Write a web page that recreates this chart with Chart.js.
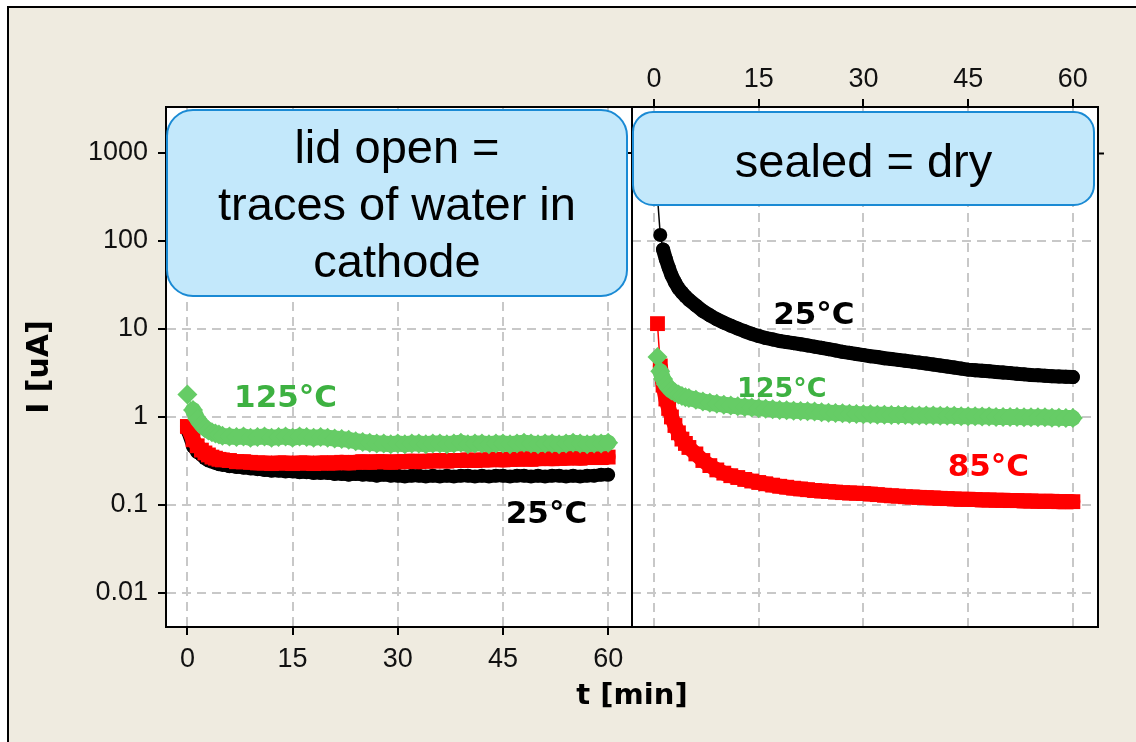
<!DOCTYPE html>
<html>
<head>
<meta charset="utf-8">
<script src="https://cdn.jsdelivr.net/npm/chart.js@4.4.1/dist/chart.umd.min.js"></script>
<style>
  html, body { margin: 0; padding: 0; background: #fff; }
  canvas { display: block; }
</style>
</head>
<body>
<canvas id="chart" width="1136" height="742"></canvas>
<script>
// Leakage current I [uA] versus time t [min], lid open vs. sealed

// --- lid open (left panel) ---
const timesOpen = [0, 0.8, 1.4, 2, 2.5, 3, 3.5, 4, 4.5,
  5, 6, 7, 8, 9, 10, 11, 12, 13, 14, 15, 16, 17, 18, 19, 20, 21, 22, 23, 24,
  25, 26, 27, 28, 29, 30, 31, 32, 33, 34, 35, 36, 37, 38, 39, 40, 41, 42, 43, 44,
  45, 46, 47, 48, 49, 50, 51, 52, 53, 54, 55, 56, 57, 58, 59, 60];
const open125 = [1.8, 1.2, 0.95, 0.82, 0.75, 0.7, 0.67, 0.65, 0.63,
  0.61, 0.6, 0.59, 0.6, 0.58, 0.59, 0.6, 0.58, 0.59, 0.6,
  0.58, 0.6, 0.59, 0.58, 0.59, 0.58, 0.57, 0.56, 0.55, 0.53,
  0.52, 0.51, 0.5, 0.5, 0.49, 0.5, 0.49, 0.5, 0.5, 0.49,
  0.5, 0.5, 0.49, 0.5, 0.51, 0.49, 0.5, 0.5, 0.49, 0.5,
  0.5, 0.49, 0.5, 0.51, 0.5, 0.49, 0.5, 0.5, 0.49, 0.5,
  0.51, 0.5, 0.49, 0.5, 0.5, 0.51];
const open85 = [0.78, 0.55, 0.47, 0.42, 0.39, 0.37, 0.35, 0.34, 0.33,
  0.325, 0.32, 0.31, 0.31, 0.305, 0.3, 0.3, 0.295, 0.3, 0.3,
  0.295, 0.3, 0.3, 0.295, 0.3, 0.3, 0.3, 0.305, 0.3, 0.305,
  0.31, 0.305, 0.31, 0.31, 0.305, 0.31, 0.31, 0.315, 0.31, 0.315,
  0.315, 0.32, 0.315, 0.32, 0.32, 0.325, 0.32, 0.325, 0.325, 0.33,
  0.325, 0.33, 0.33, 0.335, 0.33, 0.335, 0.34, 0.335, 0.34, 0.34,
  0.345, 0.34, 0.345, 0.35, 0.345, 0.35];
const open25 = [0.7, 0.46, 0.4, 0.37, 0.34, 0.32, 0.31, 0.3, 0.29,
  0.285, 0.275, 0.27, 0.265, 0.26, 0.255, 0.25, 0.245, 0.245, 0.24,
  0.24, 0.235, 0.235, 0.23, 0.23, 0.23, 0.225, 0.225, 0.22, 0.225,
  0.22, 0.22, 0.215, 0.22, 0.215, 0.215, 0.21, 0.215, 0.215, 0.21,
  0.215, 0.21, 0.215, 0.21, 0.215, 0.215, 0.21, 0.215, 0.21, 0.215,
  0.215, 0.21, 0.215, 0.215, 0.21, 0.215, 0.21, 0.215, 0.215, 0.21,
  0.215, 0.21, 0.215, 0.215, 0.22, 0.22];

// --- sealed (right panel) ---
const timesSealed = [0.5, 0.9, 1.3, 1.7, 2.1, 2.5, 3, 3.5, 4, 4.5,
  5, 6, 7, 8, 9, 10, 11, 12, 13, 14, 15, 16, 17, 18, 19, 20, 21, 22, 23, 24,
  25, 26, 27, 28, 29, 30, 31, 32, 33, 34, 35, 36, 37, 38, 39, 40, 41, 42, 43, 44,
  45, 46, 47, 48, 49, 50, 51, 52, 53, 54, 55, 56, 57, 58, 59, 60];
const sealed25 = [320, 117, 80, 62, 50, 41, 34, 29, 26, 23.5,
  21.5, 18.5, 16, 14.3, 12.9, 11.8, 10.9, 10.1, 9.4, 8.8,
  8.3, 7.9, 7.6, 7.3, 7.1, 6.9, 6.7, 6.5, 6.3, 6.1,
  5.9, 5.7, 5.5, 5.35, 5.2, 5.05, 4.9, 4.8, 4.65, 4.55,
  4.45, 4.35, 4.25, 4.15, 4.05, 3.95, 3.85, 3.75, 3.65, 3.55,
  3.45, 3.4, 3.35, 3.3, 3.25, 3.2, 3.15, 3.1, 3.05, 3.0,
  2.97, 2.94, 2.91, 2.88, 2.86, 2.84];
const sealed85 = [11.5, 3.8, 2.3, 1.6, 1.25, 1.0, 0.8, 0.66, 0.56, 0.5,
  0.45, 0.38, 0.32, 0.28, 0.25, 0.23, 0.215, 0.205, 0.195, 0.187,
  0.18, 0.174, 0.168, 0.163, 0.159, 0.155, 0.152, 0.149, 0.146, 0.144,
  0.142, 0.14, 0.138, 0.137, 0.136, 0.135, 0.133, 0.131, 0.129, 0.127,
  0.126, 0.124, 0.123, 0.122, 0.121, 0.12, 0.119, 0.118, 0.117, 0.116,
  0.116, 0.115, 0.114, 0.114, 0.113, 0.113, 0.112, 0.112, 0.111, 0.111,
  0.11, 0.11, 0.11, 0.109, 0.109, 0.109];
const sealed125 = [4.8, 3.3, 2.7, 2.35, 2.15, 2.0, 1.9, 1.8, 1.73, 1.68,
  1.64, 1.57, 1.5, 1.45, 1.41, 1.38, 1.35, 1.32, 1.3, 1.28,
  1.26, 1.24, 1.22, 1.2, 1.19, 1.18, 1.17, 1.16, 1.15, 1.13,
  1.12, 1.11, 1.1, 1.09, 1.08, 1.07, 1.07, 1.06, 1.06, 1.05,
  1.05, 1.05, 1.04, 1.04, 1.04, 1.04, 1.03, 1.03, 1.03, 1.02,
  1.02, 1.02, 1.01, 1.01, 1.0, 1.0, 1.0, 1.0, 0.99, 0.99,
  0.99, 0.99, 0.98, 0.98, 0.97, 0.97];

// --- axis ticks ---
const xTickValues = [0, 15, 30, 45, 60];
const xTickLabels = ['0', '15', '30', '45', '60'];
const yTickValues = [0.01, 0.1, 1, 10, 100, 1000];
const yTickLabels = ['0.01', '0.1', '1', '10', '100', '1000'];

// --- annotation texts ---
const openBoxLines = ['lid open =', 'traces of water in', 'cathode'];
const sealedBoxLines = ['sealed = dry'];
const tempLabels = [
  { text: '125°C', scale: 'x',  t: 14,   v: 1.6,   color: '#3db141', size: 31 },
  { text: '25°C',  scale: 'x',  t: 51.2, v: 0.076, color: '#000000', size: 31 },
  { text: '25°C',  scale: 'x2', t: 22.9, v: 14,    color: '#000000', size: 31 },
  { text: '125°C', scale: 'x2', t: 18.3, v: 2.02,  color: '#3db141', size: 27 },
  { text: '85°C',  scale: 'x2', t: 47.9, v: 0.26,  color: '#ff0000', size: 31 }
];

const GREEN = '#66cc66', RED = '#ff0000', BLACK = '#000000';
const tickFamily = "'Liberation Sans', Arial, sans-serif";
const boldFamily = "'DejaVu Sans', Verdana, sans-serif";

const pts = (ts, vs) => ts.map((t, i) => ({ x: t, y: vs[i] }));

// Markers are sampled densely, so the trace reads as a solid band;
// the first few (sparse) readings keep a thin connector.
function series(label, ts, vs, xId, color, style, radius, band, thin, order) {
  return {
    label, data: pts(ts, vs), xAxisID: xId, yAxisID: 'y',
    showLine: true, borderColor: color, borderWidth: band,
    borderJoinStyle: 'round', borderCapStyle: 'round',
    segment: { borderWidth: c => (c.p0DataIndex < thin ? 1.5 : band) },
    pointStyle: style, pointRadius: radius,
    pointBackgroundColor: color, pointBorderColor: color, pointBorderWidth: 0,
    order
  };
}

function roundedBox(ctx, x, y, w, h, r) {
  ctx.beginPath();
  ctx.moveTo(x + r, y);
  ctx.arcTo(x + w, y, x + w, y + h, r);
  ctx.arcTo(x + w, y + h, x, y + h, r);
  ctx.arcTo(x, y + h, x, y, r);
  ctx.arcTo(x, y, x + w, y, r);
  ctx.closePath();
}

const decor = {
  id: 'decor',
  beforeDraw(chart) {
    const { ctx, width, height, chartArea: a } = chart;
    ctx.save();
    ctx.fillStyle = '#ffffff';
    ctx.fillRect(0, 0, width, height);
    ctx.fillStyle = '#efebe0';
    ctx.fillRect(8, 7, width - 8, height - 7);
    ctx.strokeStyle = '#000';
    ctx.lineWidth = 2;
    ctx.beginPath();
    ctx.moveTo(8, height); ctx.lineTo(8, 7); ctx.lineTo(width, 7);
    ctx.stroke();
    ctx.fillStyle = '#ffffff';
    ctx.fillRect(a.left, a.top, a.right - a.left, a.bottom - a.top);
    ctx.restore();
  },
  afterDatasetsDraw(chart) {
    const { ctx, chartArea: a, scales } = chart;
    ctx.save();
    // divider between the two panels
    const mid = Math.round((a.left + a.right) / 2);
    ctx.strokeStyle = '#000';
    ctx.lineWidth = 2;
    ctx.beginPath();
    ctx.moveTo(mid, a.top); ctx.lineTo(mid, a.bottom);
    const yk = scales.y.getPixelForValue(1000);
    ctx.moveTo(mid - 6, yk); ctx.lineTo(mid, yk);
    ctx.stroke();

    // temperature labels
    ctx.textAlign = 'center';
    ctx.textBaseline = 'middle';
    tempLabels.forEach(l => {
      ctx.font = `bold ${l.size}px ${boldFamily}`;
      ctx.fillStyle = l.color;
      ctx.fillText(l.text, scales[l.scale].getPixelForValue(l.t), scales.y.getPixelForValue(l.v));
    });

    // call-out boxes
    const boxes = [
      { x: 167, y: 110, w: 460, h: 186, r: 26, lines: openBoxLines, base: 163, step: 57 },
      { x: 633, y: 112, w: 461, h: 93, r: 20, lines: sealedBoxLines, base: 177, step: 57 }
    ];
    boxes.forEach(b => {
      roundedBox(ctx, b.x, b.y, b.w, b.h, b.r);
      ctx.fillStyle = '#c3e8fb';
      ctx.fill();
      ctx.strokeStyle = '#1a8ad4';
      ctx.lineWidth = 2;
      ctx.stroke();
      ctx.fillStyle = '#000';
      ctx.font = `47px ${tickFamily}`;
      ctx.textAlign = 'center';
      ctx.textBaseline = 'alphabetic';
      b.lines.forEach((s, i) => ctx.fillText(s, b.x + b.w / 2, b.base + i * b.step));
    });
    ctx.restore();
  }
};

const tickFont = { family: tickFamily, size: 27 };
const gridStyle = { color: '#c8c8c8', lineWidth: 2, tickColor: '#000', tickWidth: 2, tickLength: 8 };
const borderStyle = { display: true, color: '#000', width: 2, dash: [9, 6] };

new Chart(document.getElementById('chart'), {
  type: 'scatter',
  data: {
    datasets: [
      series('125°C lid open', timesOpen, open125, 'x', GREEN, 'rectRot', 10, 16, 1, 0),
      series('85°C lid open', timesOpen, open85, 'x', RED, 'rect', 10.5, 15, 0, 1),
      series('25°C lid open', timesOpen, open25, 'x', BLACK, 'circle', 7, 13, 0, 2),
      series('125°C sealed', timesSealed, sealed125, 'x2', GREEN, 'rectRot', 10, 16, 1, 0),
      series('85°C sealed', timesSealed, sealed85, 'x2', RED, 'rect', 10.5, 15, 1, 1),
      series('25°C sealed', timesSealed, sealed25, 'x2', BLACK, 'circle', 7, 14, 2, 2)
    ]
  },
  options: {
    responsive: false,
    animation: false,
    devicePixelRatio: 1,
    layout: { padding: 0 },
    plugins: { legend: { display: false }, tooltip: { enabled: false } },
    scales: {
      x: {
        type: 'linear', position: 'bottom', min: -3.05, max: 129.85,
        afterBuildTicks: s => { s.ticks = xTickValues.map(v => ({ value: v })); },
        afterFit: s => { s.height = 115; },
        ticks: { callback: (v, i) => xTickLabels[i], font: tickFont, color: '#111', padding: 8, autoSkip: false, maxRotation: 0 },
        grid: gridStyle,
        border: borderStyle,
        title: { display: true, text: 't [min]', color: '#000', font: { family: boldFamily, size: 29, weight: 'bold' }, padding: { top: 0, bottom: 28 } }
      },
      x2: {
        type: 'linear', position: 'top', min: -69.9, max: 63.6,
        afterBuildTicks: s => { s.ticks = xTickValues.map(v => ({ value: v })); },
        afterFit: s => { s.height = 107; },
        ticks: { callback: (v, i) => xTickLabels[i], font: tickFont, color: '#111', padding: 3, autoSkip: false, maxRotation: 0 },
        grid: gridStyle,
        border: borderStyle
      },
      y: {
        type: 'logarithmic', position: 'left', min: 0.0041, max: 3333,
        afterBuildTicks: s => { s.ticks = yTickValues.map(v => ({ value: v })); },
        afterFit: s => { s.width = 166; },
        ticks: { callback: (v, i) => yTickLabels[i], font: tickFont, color: '#111', padding: 10, autoSkip: false },
        grid: gridStyle,
        border: borderStyle,
        title: { display: true, text: 'I [uA]', color: '#000', font: { family: boldFamily, size: 30, weight: 'bold' }, padding: { top: 22, bottom: 0 } }
      },
      y2: {
        type: 'logarithmic', position: 'right', min: 0.0041, max: 3333,
        afterBuildTicks: s => { s.ticks = [{ value: 1000 }]; },
        afterFit: s => { s.width = 38; },
        ticks: { display: false },
        grid: { drawOnChartArea: false, tickColor: '#000', tickWidth: 2, tickLength: 6 },
        border: { display: true, color: '#000', width: 2 }
      }
    }
  },
  plugins: [decor]
});
</script>
</body>
</html>
